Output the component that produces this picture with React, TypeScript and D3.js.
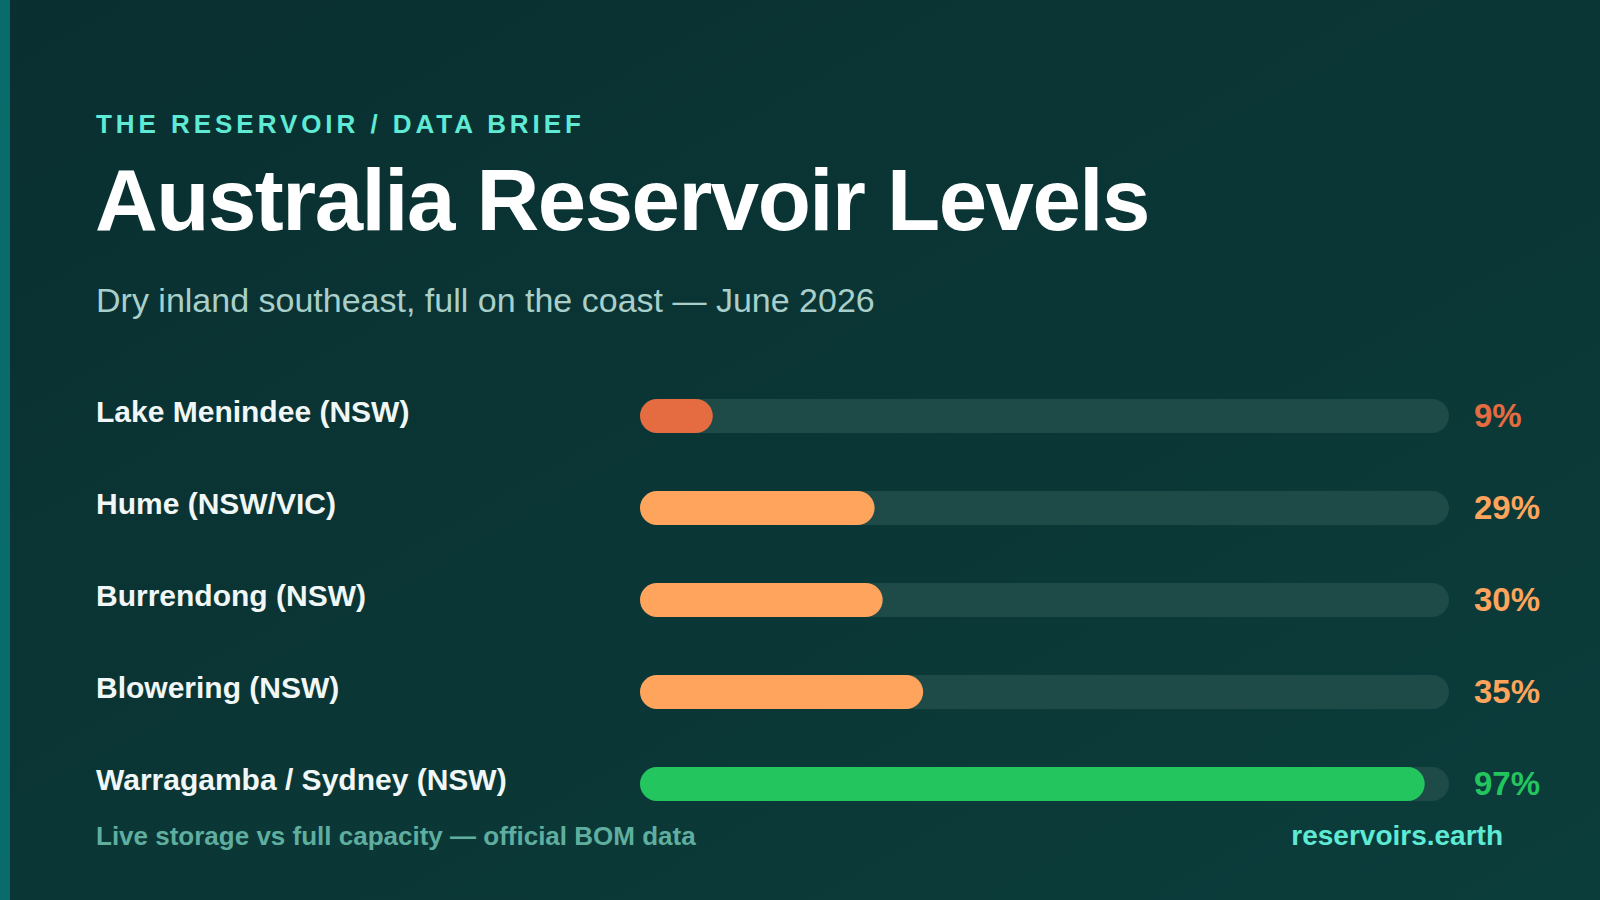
import React, { useEffect, useRef } from 'react';
import * as d3 from 'd3';

const reservoirs = [
  'Lake Menindee (NSW)',
  'Hume (NSW/VIC)',
  'Burrendong (NSW)',
  'Blowering (NSW)',
  'Warragamba / Sydney (NSW)',
];
const levels = [9, 29, 30, 35, 97];
const levelColors = ['#e56b40', '#ffa45c', '#ffa45c', '#ffa45c', '#22c55e'];

const kicker = 'THE RESERVOIR / DATA BRIEF';
const title = 'Australia Reservoir Levels';
const subtitle = 'Dry inland southeast, full on the coast \u2014 June 2026';
const footNote = 'Live storage vs full capacity \u2014 official BOM data';
const footSite = 'reservoirs.earth';

const FONT = '"Liberation Sans", Arial, Helvetica, sans-serif';

const App = () => {
  const ref = useRef<SVGSVGElement>(null);

  useEffect(() => {
    const width = 1600;
    const height = 900;
    const svg = d3.select(ref.current).attr('width', width).attr('height', height);
    svg.selectAll('*').remove();

    const defs = svg.append('defs');
    const grad = defs.append('linearGradient')
      .attr('id', 'bg')
      .attr('x1', '0').attr('y1', '0').attr('x2', '1').attr('y2', '1');
    grad.append('stop').attr('offset', '0%').attr('stop-color', '#0a2f30');
    grad.append('stop').attr('offset', '100%').attr('stop-color', '#0b3d3b');

    svg.append('rect').attr('width', width).attr('height', height).attr('fill', 'url(#bg)');
    svg.append('rect').attr('width', 10).attr('height', height).attr('fill', '#0a6b6b');

    const left = 96;

    svg.append('text')
      .attr('x', left).attr('y', 133)
      .attr('font-family', FONT).attr('font-weight', 700).attr('font-size', 26)
      .attr('letter-spacing', 3.95)
      .attr('fill', '#5eead4')
      .text(kicker);

    svg.append('text')
      .attr('x', left - 1).attr('y', 230)
      .attr('font-family', FONT).attr('font-weight', 700).attr('font-size', 87)
      .attr('letter-spacing', -1.5)
      .attr('fill', '#ffffff')
      .text(title);

    svg.append('text')
      .attr('x', left).attr('y', 312)
      .attr('font-family', FONT).attr('font-size', 34)
      .attr('fill', '#a9cfca')
      .text(subtitle);

    const x = d3.scaleLinear().domain([0, 100]).range([640, 1449]);
    const y = d3.scaleBand<string>()
      .domain(reservoirs)
      .range([370, 830])
      .paddingInner(0.63)
      .paddingOuter(0.315);

    const barH = y.bandwidth();
    const rows = svg.append('g')
      .selectAll('g')
      .data(reservoirs)
      .join('g')
      .attr('transform', d => `translate(0,${y(d)})`);

    rows.append('text')
      .attr('x', left)
      .attr('y', barH / 2 + 6)
      .attr('font-family', FONT).attr('font-weight', 700).attr('font-size', 30)
      .attr('fill', '#f0f7f6')
      .text(d => d);

    rows.append('rect')
      .attr('x', x(0))
      .attr('width', x(100) - x(0))
      .attr('height', barH)
      .attr('rx', barH / 2)
      .attr('fill', '#1e4a48');

    rows.append('rect')
      .attr('x', x(0))
      .attr('width', (d, i) => x(levels[i]) - x(0))
      .attr('height', barH)
      .attr('rx', barH / 2)
      .attr('fill', (d, i) => levelColors[i]);

    rows.append('text')
      .attr('x', 1474)
      .attr('y', barH / 2 + 11)
      .attr('font-family', FONT).attr('font-weight', 700).attr('font-size', 33)
      .attr('fill', (d, i) => levelColors[i])
      .text((d, i) => `${levels[i]}%`);

    svg.append('text')
      .attr('x', left).attr('y', 845)
      .attr('font-family', FONT).attr('font-weight', 700).attr('font-size', 26)
      .attr('fill', '#5fae9f')
      .text(footNote);

    svg.append('text')
      .attr('x', 1503).attr('y', 845)
      .attr('text-anchor', 'end')
      .attr('font-family', FONT).attr('font-weight', 700).attr('font-size', 28)
      .attr('fill', '#5eead4')
      .text(footSite);
  }, []);

  return <svg ref={ref} style={{ position: 'absolute', left: 0, top: 0, display: 'block' }}></svg>;
};

export default App;
